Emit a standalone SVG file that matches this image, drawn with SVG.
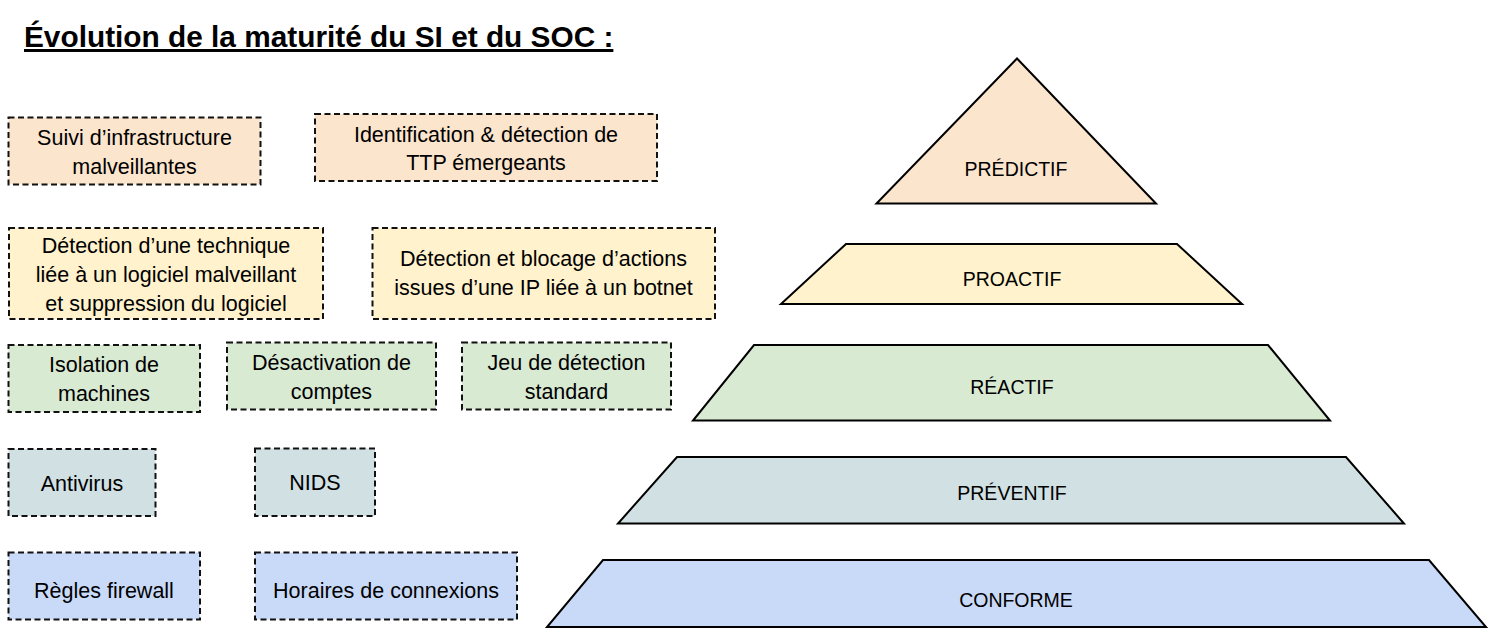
<svg xmlns="http://www.w3.org/2000/svg" width="1494" height="635" viewBox="0 0 1494 635">
<style>
  text { font-family: "Liberation Sans", Arial, sans-serif; fill: #000; }
  .lbl { font-size: 21.5px; text-anchor: middle; }
  .lvl { font-size: 19.5px; text-anchor: middle; }
  .title { font-size: 29.8px; font-weight: bold; text-decoration: underline; }
  .box { stroke: #111; stroke-width: 2; stroke-dasharray: 6 3.5; }
  .lev { stroke: #000; stroke-width: 2; stroke-linejoin: miter; }
  .c-pred { fill: #fce5cd; }
  .c-proa { fill: #fff2cc; }
  .c-reac { fill: #d9ead3; }
  .c-prev { fill: #d0e0e3; }
  .c-conf { fill: #c9daf8; }
</style>
<rect width="1494" height="635" fill="#fff"/>
<text id="title" class="title" x="24" y="47">Évolution de la maturité du SI et du SOC :</text>

<!-- Pyramid levels -->
<g id="level-predictif">
  <polygon class="lev c-pred" points="1017,58.5 876.5,203.5 1156,203.5"/>
  <text class="lvl" x="1016" y="176">PRÉDICTIF</text>
</g>
<g id="level-proactif">
  <polygon class="lev c-proa" points="846,244 1177,244 1242,304 781,304"/>
  <text class="lvl" x="1012" y="286">PROACTIF</text>
</g>
<g id="level-reactif">
  <polygon class="lev c-reac" points="754,345 1268,345 1330,420.5 693,420.5"/>
  <text class="lvl" x="1012" y="394">RÉACTIF</text>
</g>
<g id="level-preventif">
  <polygon class="lev c-prev" points="677,457 1346,457 1404,523.5 618,523.5"/>
  <text class="lvl" x="1012" y="500">PRÉVENTIF</text>
</g>
<g id="level-conforme">
  <polygon class="lev c-conf" points="603,560 1429,560 1486,627 547,627"/>
  <text class="lvl" x="1016" y="607">CONFORME</text>
</g>

<!-- Example boxes -->
<g id="box-suivi">
  <rect class="box c-pred" x="8.5" y="117.5" width="252" height="67"/>
  <text class="lbl" x="134.5" y="145">Suivi d’infrastructure</text>
  <text class="lbl" x="134.5" y="174">malveillantes</text>
</g>
<g id="box-ttp">
  <rect class="box c-pred" x="315" y="114" width="342" height="67"/>
  <text class="lbl" x="486" y="142">Identification &amp; détection de</text>
  <text class="lbl" x="486" y="170">TTP émergeants</text>
</g>
<g id="box-technique">
  <rect class="box c-proa" x="9" y="228" width="314" height="91"/>
  <text class="lbl" x="166" y="253">Détection d’une technique</text>
  <text class="lbl" x="166" y="282">liée à un logiciel malveillant</text>
  <text class="lbl" x="166" y="311">et suppression du logiciel</text>
</g>
<g id="box-botnet">
  <rect class="box c-proa" x="372.5" y="228" width="342.5" height="91"/>
  <text class="lbl" x="543.5" y="266">Détection et blocage d’actions</text>
  <text class="lbl" x="543.5" y="295">issues d’une IP liée à un botnet</text>
</g>
<g id="box-isolation">
  <rect class="box c-reac" x="8.5" y="345" width="191.5" height="67"/>
  <text class="lbl" x="104" y="372">Isolation de</text>
  <text class="lbl" x="104" y="401">machines</text>
</g>
<g id="box-desactivation">
  <rect class="box c-reac" x="227" y="342.5" width="209" height="67"/>
  <text class="lbl" x="331.5" y="370">Désactivation de</text>
  <text class="lbl" x="331.5" y="399">comptes</text>
</g>
<g id="box-jeu">
  <rect class="box c-reac" x="462" y="342.5" width="209" height="67"/>
  <text class="lbl" x="566.5" y="370">Jeu de détection</text>
  <text class="lbl" x="566.5" y="399">standard</text>
</g>
<g id="box-antivirus">
  <rect class="box c-prev" x="8.5" y="449" width="147" height="67"/>
  <text class="lbl" x="82" y="491">Antivirus</text>
</g>
<g id="box-nids">
  <rect class="box c-prev" x="255" y="448.5" width="120" height="67.5"/>
  <text class="lbl" x="315" y="490">NIDS</text>
</g>
<g id="box-firewall">
  <rect class="box c-conf" x="8.5" y="552.5" width="191.5" height="67"/>
  <text class="lbl" x="104" y="598">Règles firewall</text>
</g>
<g id="box-horaires">
  <rect class="box c-conf" x="255" y="552.5" width="262" height="67"/>
  <text class="lbl" x="386" y="598">Horaires de connexions</text>
</g>
</svg>
